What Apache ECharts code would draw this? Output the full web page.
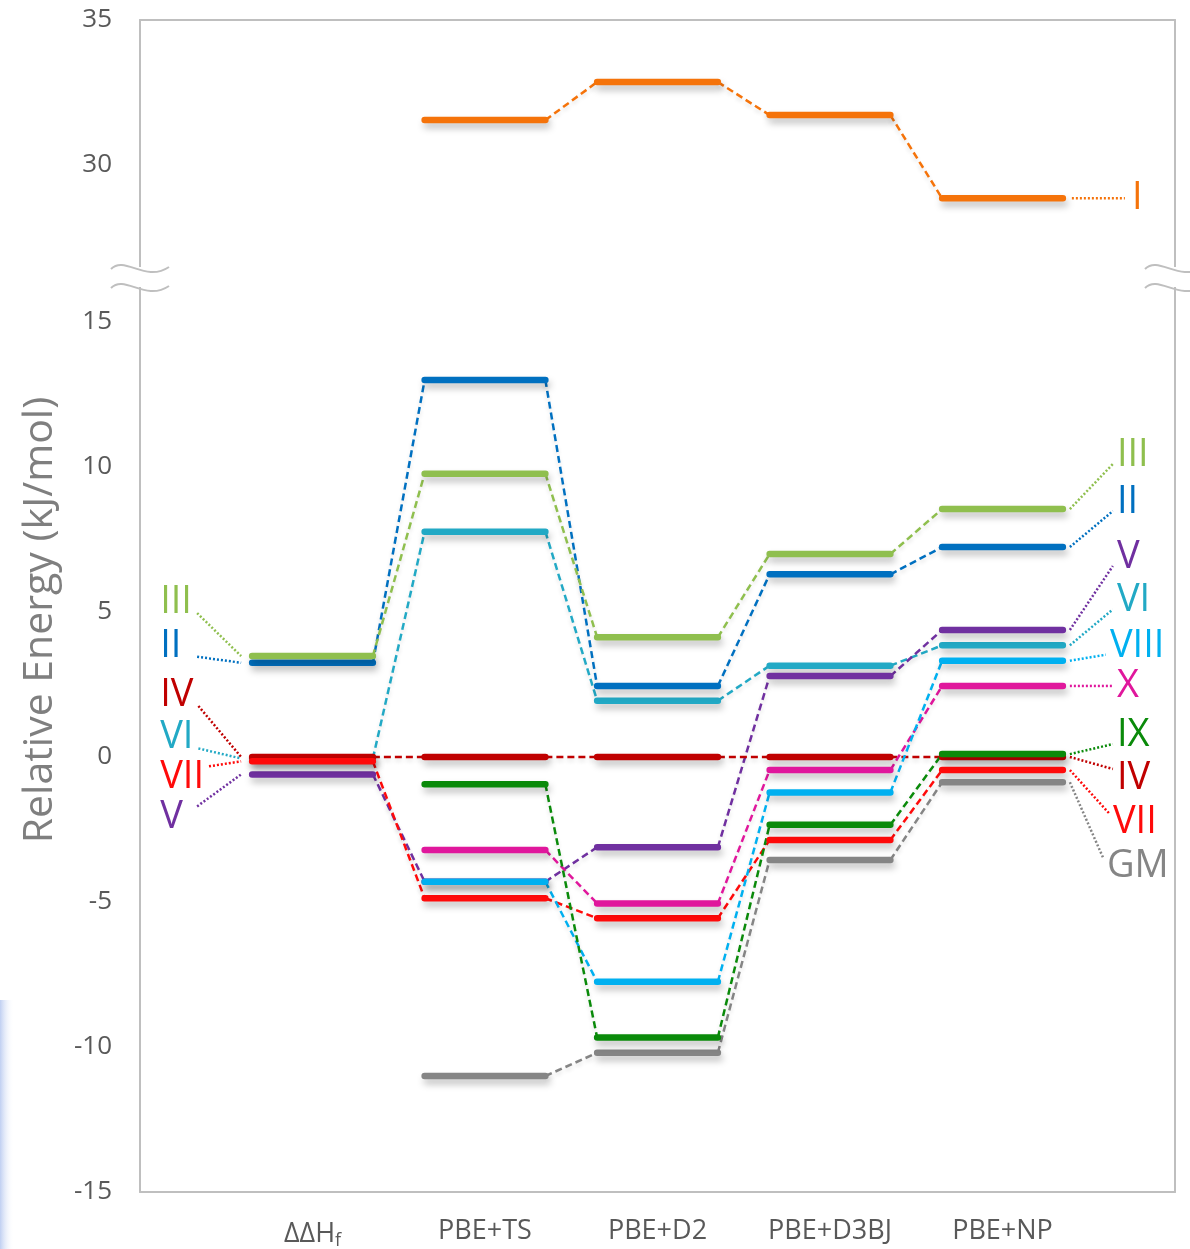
<!DOCTYPE html>
<html><head><meta charset="utf-8">
<script src="https://cdn.jsdelivr.net/npm/echarts@6/dist/echarts.min.js"></script>
<style>html,body{margin:0;padding:0;background:#fff}#c{width:1190px;height:1249px}</style>
</head><body><div id="c"></div>
<script>
// ---------------- data ----------------
const categories = ['ΔΔH_f', 'PBE+TS', 'PBE+D2', 'PBE+D3BJ', 'PBE+NP'];
const yTicksUpper = [30, 35];
const yTicksLower = [-15, -10, -5, 0, 5, 10, 15];
const polymorphs = ['I', 'II', 'III', 'IV', 'V', 'VI', 'VII', 'VIII', 'IX', 'X', 'GM'];
const I    = [null, 31.55, 32.86, 31.72, 28.85];
const II   = [3.25, 13.00, 2.45, 6.30, 7.24];
const III  = [3.48, 9.77, 4.13, 7.00, 8.55];
const IV   = [0.00, 0.00, 0.00, 0.00, 0.00];
const V    = [-0.60, -4.30, -3.11, 2.79, 4.38];
const VI   = [-0.05, 7.77, 1.94, 3.15, 3.85];
const VII  = [-0.15, -4.87, -5.56, -2.86, -0.45];
const VIII = [null, -4.30, -7.75, -1.22, 3.32];
const IX   = [null, -0.94, -9.67, -2.34, 0.10];
const X    = [null, -3.21, -5.05, -0.45, 2.45];
const GM   = [null, -11.00, -10.20, -3.55, -0.87];
const values = {I, II, III, IV, V, VI, VII, VIII, IX, X, GM};

// ---------------- styles / layout ----------------
const colors = {
  I: '#F5730A', II: '#0070C0', III: '#8FBF4E', IV: '#C00000', V: '#7030A0',
  VI: '#22A9C5', VII: '#FF0A0A', VIII: '#00B0F0', IX: '#0A8A0A', X: '#E0179C', GM: '#858585'
};
const drawOrder = ['I', 'VI', 'V', 'IV', 'VII', 'GM', 'X', 'II', 'III', 'VIII', 'IX'];
// label offsets (px) relative to the level they annotate
const rightDy = {I: 0, III: -54, II: -45, V: -73, VI: -45, VIII: -15, X: 0, IX: -19, IV: 21, VII: 52, GM: 84};
const rightDx = {GM: -10, VIII: -7, VII: -4};
const leftDy = {III: -54, II: -17, IV: -62, VI: -21, VII: 16, V: 43};
const HALF = 0.35;
const FONT = '"Open Sans", "DejaVu Sans", sans-serif';
const labelFontSize = 38;

const measureCtx = document.createElement('canvas').getContext('2d');
measureCtx.font = labelFontSize + 'px ' + FONT;
const clamp = (v, a, b) => Math.max(a, Math.min(b, v));
const isUpper = v => v > 20;

const chart = echarts.init(document.getElementById('c'));
const series = [];

drawOrder.forEach(name => {
  const vals = values[name];
  const upper = vals.some(v => v != null && isUpper(v));
  const axes = upper ? {xAxisIndex: 0, yAxisIndex: 0} : {xAxisIndex: 1, yAxisIndex: 2};
  const levels = [], conns = [];
  vals.forEach((v, i) => {
    if (v == null) return;
    const x = i + 1;
    levels.push([x - HALF, v], [x + HALF, v], [x + HALF, '-']);
    const nv = vals[i + 1];
    if (nv != null && i + 1 < vals.length) {
      conns.push([x + HALF, v], [x + 1 - HALF, nv], [x + 1 - HALF, '-']);
    }
  });
  series.push(Object.assign({
    type: 'line', name: name + '-conn', data: conns, z: 2, silent: true,
    symbol: 'none', showSymbol: false, connectNulls: false, animation: false,
    lineStyle: {color: colors[name], width: 2.5, type: [7, 4],
      shadowColor: 'rgba(0,0,0,0.12)', shadowBlur: 4, shadowOffsetY: 3}
  }, axes));
  series.push(Object.assign({
    type: 'line', name: name, data: levels, z: 3, silent: true,
    symbol: 'none', showSymbol: false, connectNulls: false, animation: false,
    lineStyle: {color: colors[name], width: 6.5, cap: 'round',
      shadowColor: 'rgba(0,0,0,0.25)', shadowBlur: 7, shadowOffsetX: 2, shadowOffsetY: 5}
  }, axes));
});

// annotation series (roman numeral labels + dotted leaders)
function annot(side, upper) {
  const data = [];
  polymorphs.forEach((name, idx) => {
    const vals = values[name];
    const i = side === 'right' ? vals.length - 1 : 0;
    const v = vals[i];
    if (v == null || isUpper(v) !== upper) return;
    if (side === 'left' && leftDy[name] === undefined) return;
    data.push([side === 'right' ? i + 1 + HALF : i + 1 - HALF, v, idx]);
  });
  return {
    type: 'custom', coordinateSystem: 'cartesian2d', silent: true, animation: false, z: 4,
    xAxisIndex: upper ? 0 : 1, yAxisIndex: upper ? 0 : 2,
    encode: {x: 0, y: 1}, data: data,
    renderItem: function (params, api) {
      const p = api.coord([api.value(0), api.value(1)]);
      const name = polymorphs[api.value(2)];
      const col = colors[name];
      let pts, tx, ly;
      if (side === 'right') {
        ly = p[1] + rightDy[name];
        const big = name === 'I';
        const dx = rightDx[name] || 0;
        const x0 = p[0] + (big ? 9 : 7), x1 = p[0] + (big ? 62 : 50) + dx;
        tx = p[0] + (big ? 69 : 54) + dx;
        pts = [[x0, p[1]], [x1, ly + clamp(p[1] - ly, -9, 9)]];
      } else {
        ly = p[1] + leftDy[name];
        tx = p[0] - 92;
        const w = measureCtx.measureText(name).width;
        const x0 = Math.max(tx + w + 5, p[0] - 55);
        pts = [[x0, ly + clamp(p[1] - ly, -11, 11)], [p[0] - 11, p[1]]];
      }
      return {
        type: 'group', children: [
          {type: 'polyline', shape: {points: pts},
            style: {stroke: col, lineWidth: 2.5, lineDash: [2, 2], fill: null}},
          {type: 'text', x: tx, y: ly,
            style: {text: name, fill: col, fontSize: labelFontSize, fontFamily: FONT,
              textAlign: 'left', textVerticalAlign: 'middle', align: 'left', verticalAlign: 'middle'}}
        ]
      };
    }
  };
}
series.push(annot('right', true), annot('right', false), annot('left', false));

const axisColor = '#BFBFBF';
const tickColor = '#595959';
const baseX = {type: 'value', min: 0, max: 6, interval: 1, splitLine: {show: false},
  axisTick: {show: false}, axisLine: {onZero: false, lineStyle: {color: axisColor, width: 2}}};

function breakMarks(cx) {
  const els = [{type: 'rect', z: 100, shape: {x: cx - 8, y: 267, width: 16, height: 20}, style: {fill: '#fff'}}];
  [0, 19].forEach(dy => els.push({
    type: 'bezierCurve', z: 101,
    shape: {x1: cx - 29, y1: 269 + dy, cpx1: cx - 15, cpy1: 255 + dy, cpx2: cx + 5, cpy2: 283 + dy, x2: cx + 29, y2: 267 + dy},
    style: {stroke: axisColor, lineWidth: 2, fill: null}
  }));
  return els;
}

chart.setOption({
  backgroundColor: '#fff',
  animation: false,
  grid: [
    {left: 140, right: 15, top: 20, height: 290, containLabel: false, outerBoundsMode: 'none'},
    {left: 140, right: 15, top: 177, height: 1015, containLabel: false, outerBoundsMode: 'none'}
  ],
  xAxis: [
    Object.assign({}, baseX, {gridIndex: 0, position: 'top', axisLabel: {show: false}}),
    Object.assign({}, baseX, {gridIndex: 1, position: 'bottom',
      axisLabel: {margin: 26, color: tickColor, fontSize: 27, fontFamily: FONT,
        formatter: v => {
          const c = categories[v - 1];
          if (!c) return '';
          const parts = c.split('_');
          return parts.length > 1 ? '{m|' + parts[0] + '}{s|' + parts[1] + '}' : '{m|' + c + '}';
        },
        rich: {
          m: {fontSize: 27, fontFamily: FONT, color: tickColor},
          s: {fontSize: 18, fontFamily: FONT, color: tickColor, padding: [14, 0, 0, 0]}
        }}})
  ],
  yAxis: [
    {type: 'value', gridIndex: 0, position: 'left', min: 25, max: 35, interval: 5,
      splitLine: {show: false}, axisTick: {show: false},
      axisLine: {show: true, onZero: false, lineStyle: {color: axisColor, width: 2}},
      axisLabel: {margin: 28, color: tickColor, fontSize: 26, fontFamily: FONT,
        formatter: v => yTicksUpper.includes(v) ? String(v) : ''}},
    {type: 'value', gridIndex: 0, position: 'right', min: 25, max: 35, interval: 5,
      splitLine: {show: false}, axisTick: {show: false}, axisLabel: {show: false},
      axisLine: {show: true, onZero: false, lineStyle: {color: axisColor, width: 2}}},
    {type: 'value', gridIndex: 1, position: 'left', min: -15, max: 20, interval: 5,
      splitLine: {show: false}, axisTick: {show: false},
      axisLine: {show: true, onZero: false, lineStyle: {color: axisColor, width: 2}},
      axisLabel: {margin: 28, color: tickColor, fontSize: 26, fontFamily: FONT,
        formatter: v => yTicksLower.includes(v) ? String(v) : ''}},
    {type: 'value', gridIndex: 1, position: 'right', min: -15, max: 20, interval: 5,
      splitLine: {show: false}, axisTick: {show: false}, axisLabel: {show: false},
      axisLine: {show: true, onZero: false, lineStyle: {color: axisColor, width: 2}}}
  ],
  graphic: [
    {type: 'text', x: 40, y: 620, rotation: Math.PI / 2, z: 100,
      style: {text: 'Relative Energy (kJ/mol)', fill: '#7F7F7F', fontSize: 41, fontFamily: FONT,
        textAlign: 'center', textVerticalAlign: 'middle', align: 'center', verticalAlign: 'middle'}},
    {type: 'rect', z: 0, shape: {x: 0, y: 1000, width: 14, height: 249},
      style: {fill: new echarts.graphic.LinearGradient(0, 0, 1, 0, [
        {offset: 0, color: 'rgba(185,202,240,0.9)'}, {offset: 1, color: 'rgba(255,255,255,0)'}])}}
  ].concat(breakMarks(140), breakMarks(1174)),
  series: series
});
</script></body></html>
